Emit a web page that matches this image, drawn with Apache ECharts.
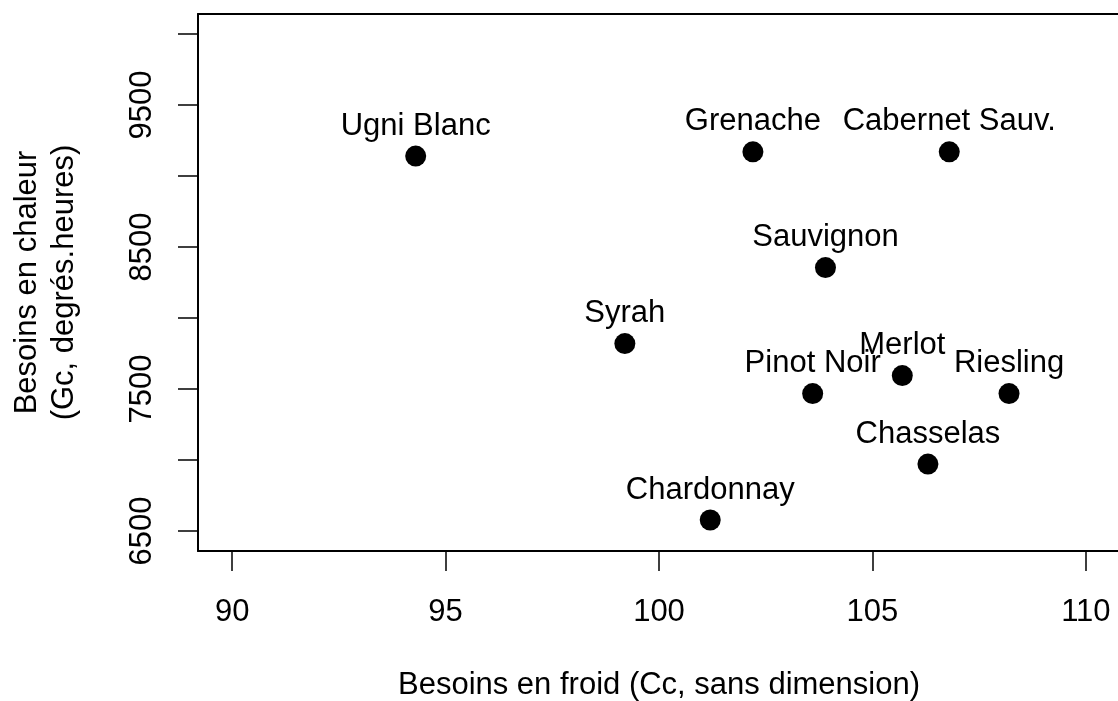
<!DOCTYPE html>
<html>
<head>
<meta charset="utf-8">
<title>Besoins en froid et en chaleur des cépages</title>
<script src="https://cdn.jsdelivr.net/npm/echarts@6/dist/echarts.min.js"></script>
<style>
  html, body { margin: 0; padding: 0; background: #fff; }
  #chart { width: 1118px; height: 701px; }
</style>
</head>
<body>
<div id="chart"></div>
<script>
// cépages, besoins en froid (Cc) et en chaleur (Gc)
var cepages = ['Ugni Blanc', 'Grenache', 'Cabernet Sauv.', 'Sauvignon', 'Syrah',
  'Merlot', 'Pinot Noir', 'Riesling', 'Chasselas', 'Chardonnay'];
var froid = [94.3, 102.2, 106.8, 103.9, 99.2, 105.7, 103.6, 108.2, 106.3, 101.2];
var chaleur = [9140, 9170, 9170, 8355, 7820, 7595, 7468, 7468, 6972, 6578];

var xTicks = [90, 95, 100, 105, 110];
var yTicks = [6500, 7000, 7500, 8000, 8500, 9000, 9500, 10000];
var yLabels = [6500, 7500, 8500, 9500];

var police = "'Liberation Sans', Arial, Helvetica, sans-serif";
var chart = echarts.init(document.getElementById('chart'));

var points = [];
cepages.forEach(function (nom, i) {
	points.push({ name: nom, value: [froid[i], chaleur[i]] });
});

var trait = { color: '#000', width: 2 };

var option = {
	animation: false,
	backgroundColor: '#fff',
	textStyle: { fontFamily: police, color: '#000' },
	grid: {
		left: 198,
		top: 14,
		width: 922,
		height: 537,
		outerBoundsMode: 'none',
		containLabel: false
	},
	xAxis: [{
		type: 'value',
		position: 'bottom',
		min: 89.2,
		max: 110.8,
		splitLine: { show: false },
		axisLine: { show: true, onZero: false, lineStyle: trait },
		axisTick: {
			show: true,
			length: 20,
			customValues: xTicks,
			lineStyle: { color: '#000', width: 1.5 }
		},
		axisLabel: {
			customValues: xTicks,
			margin: 46,
			fontSize: 31,
			color: '#000',
			fontFamily: police
		},
		name: 'Besoins en froid (Cc, sans dimension)',
		nameLocation: 'middle',
		nameGap: 119,
		nameTextStyle: { fontSize: 31, color: '#000', fontFamily: police }
	}, {
		// bord haut du cadre
		type: 'value',
		position: 'top',
		min: 89.2,
		max: 110.8,
		splitLine: { show: false },
		axisLine: { show: true, onZero: false, lineStyle: trait },
		axisTick: { show: false },
		axisLabel: { show: false }
	}],
	yAxis: {
		type: 'value',
		min: 6360,
		max: 10140,
		splitLine: { show: false },
		axisLine: { show: true, onZero: false, lineStyle: trait },
		axisTick: {
			show: true,
			length: 20,
			customValues: yTicks,
			lineStyle: { color: '#000', width: 1.5 }
		},
		axisLabel: {
			customValues: yLabels,
			rotate: 90,
			margin: 40,
			fontSize: 31,
			color: '#000',
			fontFamily: police,
			formatter: function (v) { return String(v); }
		},
		name: 'Besoins en chaleur\n(Gc, degrés.heures)',
		nameLocation: 'middle',
		nameRotate: 90,
		nameGap: 115,
		nameTextStyle: { fontSize: 31, lineHeight: 37, color: '#000', fontFamily: police }
	},
	series: [{
		type: 'scatter',
		symbol: 'circle',
		symbolSize: 21,
		itemStyle: { color: '#000', opacity: 1 },
		label: {
			show: true,
			position: 'inside',
			offset: [0, -30],
			formatter: '{b}',
			fontSize: 31,
			color: '#000',
			opacity: 1,
			fontFamily: police
		},
		emphasis: { disabled: true },
		data: points
	}]
};
chart.setOption(option);
</script>
</body>
</html>
